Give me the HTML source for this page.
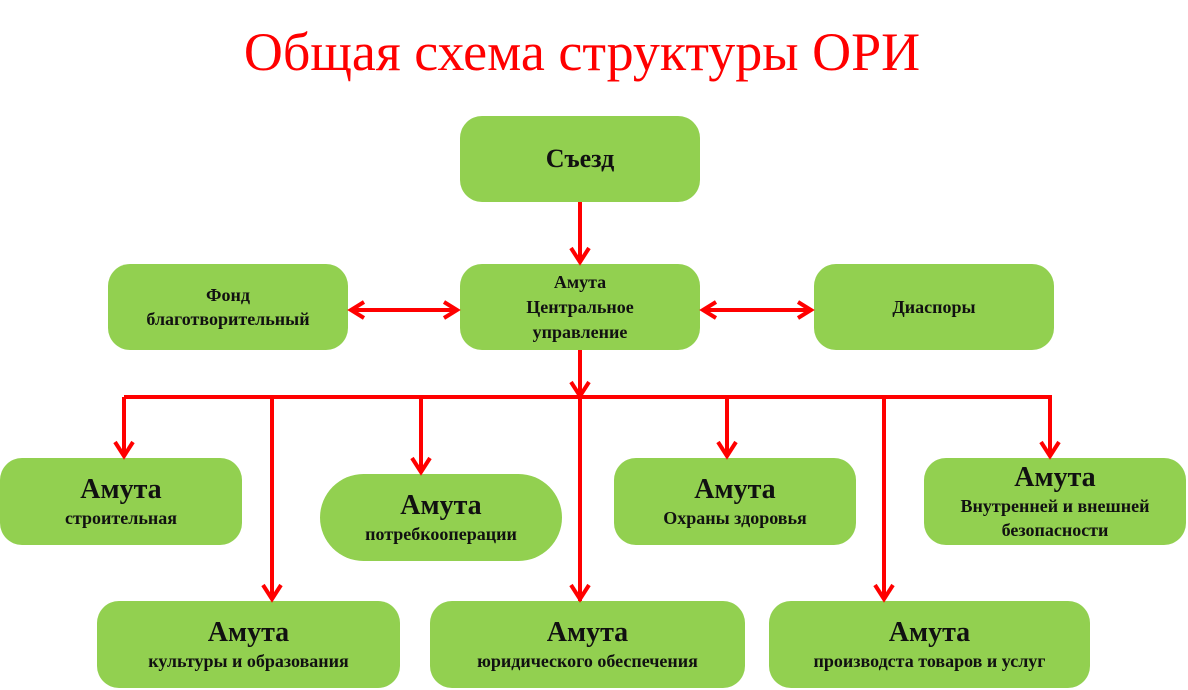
<!DOCTYPE html>
<html><head><meta charset="utf-8"><style>
body{margin:0;width:1188px;height:690px;background:#fff;position:relative;overflow:hidden;font-family:"Liberation Serif",serif;}
.t{position:absolute;left:0;width:1164px;top:20px;text-align:center;color:#ff0000;font-size:54px;line-height:64px;}
.b{position:absolute;background:#92d050;border-radius:22px;display:flex;flex-direction:column;align-items:center;justify-content:center;text-align:center;font-weight:bold;color:#111;font-size:18px;line-height:24px;}
.b .h{font-size:28px;line-height:32px;}
svg{position:absolute;left:0;top:0;}
</style></head><body>
<div class="t">Общая схема структуры ОРИ</div>
<div class="b" style="left:460px;top:116px;width:240px;height:86px;font-size:26px">Съезд</div>
<div class="b" style="left:108px;top:264px;width:240px;height:86px">Фонд<br>благотворительный</div>
<div class="b" style="left:460px;top:264px;width:240px;height:86px;line-height:25px">Амута<br>Центральное<br>управление</div>
<div class="b" style="left:814px;top:264px;width:240px;height:86px">Диаспоры</div>
<div class="b" style="left:0;top:458px;width:242px;height:87px"><span class="h">Амута</span>строительная</div>
<div class="b" style="left:320px;top:474px;width:242px;height:87px;border-radius:44px"><span class="h">Амута</span>потребкооперации</div>
<div class="b" style="left:614px;top:458px;width:242px;height:87px"><span class="h">Амута</span>Охраны здоровья</div>
<div class="b" style="left:924px;top:458px;width:262px;height:87px"><span class="h">Амута</span>Внутренней и внешней<br>безопасности</div>
<div class="b" style="left:97px;top:601px;width:303px;height:87px"><span class="h">Амута</span>культуры и образования</div>
<div class="b" style="left:430px;top:601px;width:315px;height:87px"><span class="h">Амута</span>юридического обеспечения</div>
<div class="b" style="left:769px;top:601px;width:321px;height:87px"><span class="h">Амута</span>производста товаров и услуг</div>
<svg width="1188" height="690" fill="none" stroke="#ff0000" stroke-width="4">
<line x1="580" y1="202" x2="580" y2="262"/><polyline points="571,248 580,262 589,248"/>
<line x1="352" y1="310" x2="456" y2="310"/><polyline points="364,302 351,310 364,318"/><polyline points="444,302 457,310 444,318"/>
<line x1="704" y1="310" x2="810" y2="310"/><polyline points="716,302 703,310 716,318"/><polyline points="798,302 811,310 798,318"/>
<line x1="580" y1="350" x2="580" y2="601"/><polyline points="571,382 580,396 589,382"/>
<line x1="124" y1="397" x2="1052" y2="397"/>
<line x1="124" y1="397" x2="124" y2="456"/><polyline points="115,442 124,456 133,442"/>
<line x1="272" y1="397" x2="272" y2="599"/><polyline points="263,585 272,599 281,585"/>
<line x1="421" y1="397" x2="421" y2="472"/><polyline points="412,458 421,472 430,458"/>
<polyline points="571,585 580,599 589,585"/>
<line x1="727" y1="397" x2="727" y2="456"/><polyline points="718,442 727,456 736,442"/>
<line x1="884" y1="397" x2="884" y2="599"/><polyline points="875,585 884,599 893,585"/>
<line x1="1050" y1="397" x2="1050" y2="456"/><polyline points="1041,442 1050,456 1059,442"/>
</svg>
</body></html>
